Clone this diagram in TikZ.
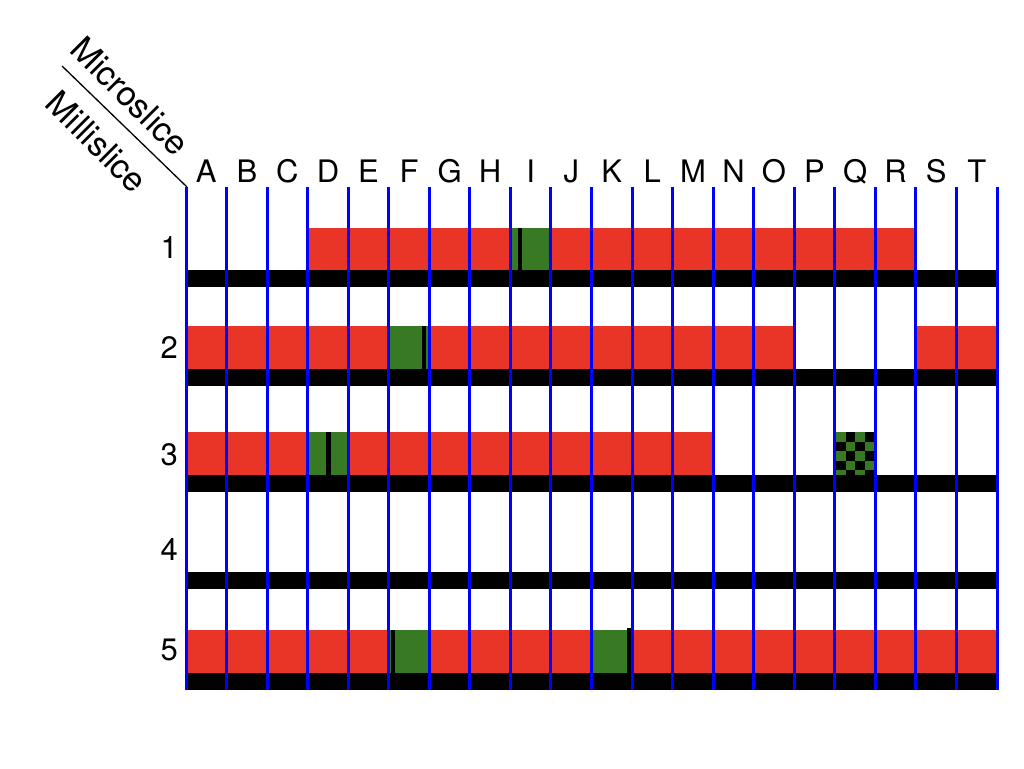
\documentclass[tikz,border=0pt]{standalone}
\usepackage{fontspec}
\setmainfont{TeX Gyre Heros}
\definecolor{cellred}{RGB}{233,53,39}
\definecolor{cellgreen}{RGB}{56,122,36}
\begin{document}
\begin{tikzpicture}[x=1pt,y=-1pt,
  lbl/.style={font=\fontsize{31}{31}\selectfont, inner sep=0pt},
  hdr/.style={font=\fontsize{34}{34}\selectfont, inner sep=0pt, rotate=-45},
  redcell/.style={fill=cellred},
  greencell/.style={fill=cellgreen},
  band/.style={fill=black},
  marker/.style={fill=black},
  gridline/.style={draw=blue, line width=3pt}]
\useasboundingbox (0,0) rectangle (1024,768);
% red rows
\fill[redcell] ({186+40.55*3},228) rectangle ({186+40.55*18},270);
\fill[redcell] (186,326) rectangle ({186+40.55*15},369);
\fill[redcell] ({186+40.55*18},326) rectangle (997,369);
\fill[redcell] (186,432) rectangle ({186+40.55*13},475);
\fill[redcell] (186,630) rectangle (997,673);
% green cells
\fill[greencell] ({186+40.55*8},228) rectangle ({186+40.55*9},270);
\fill[greencell] ({186+40.55*5},326) rectangle ({186+40.55*6},369);
\fill[greencell] ({186+40.55*3},432) rectangle ({186+40.55*4},475);
\fill[greencell] ({186+40.55*5},630) rectangle ({186+40.55*6},673);
\fill[greencell] ({186+40.55*10},630) rectangle ({186+40.55*11},673);
% checker
\fill[greencell] (836,432) rectangle (874,475);
\begin{scope}
  \clip (836,432) rectangle (874,475);
  \foreach \j in {0,...,4}{
    \foreach \i in {0,...,3}{
      \pgfmathtruncatemacro{\chk}{mod(\i+\j,2)}
      \ifnum\chk=1
        \fill[black] ({836+9.5*\i},{432+9.5*\j}) rectangle ({836+9.5*(\i+1)},{432+9.5*(\j+1)});
      \fi
    }
  }
\end{scope}
% black bands
\fill[band] (186,270) rectangle (997,287);
\fill[band] (186,369) rectangle (997,386);
\fill[band] (186,475) rectangle (997,492);
\fill[band] (186,572) rectangle (997,589);
\fill[band] (186,673) rectangle (997,690);
% markers
\fill[marker] (518,228) rectangle (522,270);
\fill[marker] (422,326) rectangle (426,369);
\fill[marker] (326,432) rectangle (331,477);
\fill[marker] (391,630) rectangle (395,673);
\fill[marker] (627,628) rectangle (632,673);
% grid lines
\foreach \i in {0,...,20}
  \draw[gridline] ({186+40.55*\i},187) -- ({186+40.55*\i},690);
% column labels
\foreach \L [count=\i from 0] in {A,B,C,D,E,F,G,H,I,J,K,L,M,N,O,P,Q,R,S,T}
  \node[lbl, anchor=base] (col\L) at ({206.3+40.55*\i},182) {\L};
% row labels
\foreach \n/\y in {1/258,2/358,3/465,4/560,5/660}
  \node[lbl, anchor=base east] (row\n) at (178,\y) {\n};
% header
\coordinate (diagA) at (62,66);
\coordinate (diagB) at (187,187);
\draw[line width=1.3pt] (diagA) -- (diagB);
\node[hdr] (micro) at (130,96) {Microslice};
\node[hdr] (milli) at (97,142) {Millislice};
\end{tikzpicture}
\end{document}
